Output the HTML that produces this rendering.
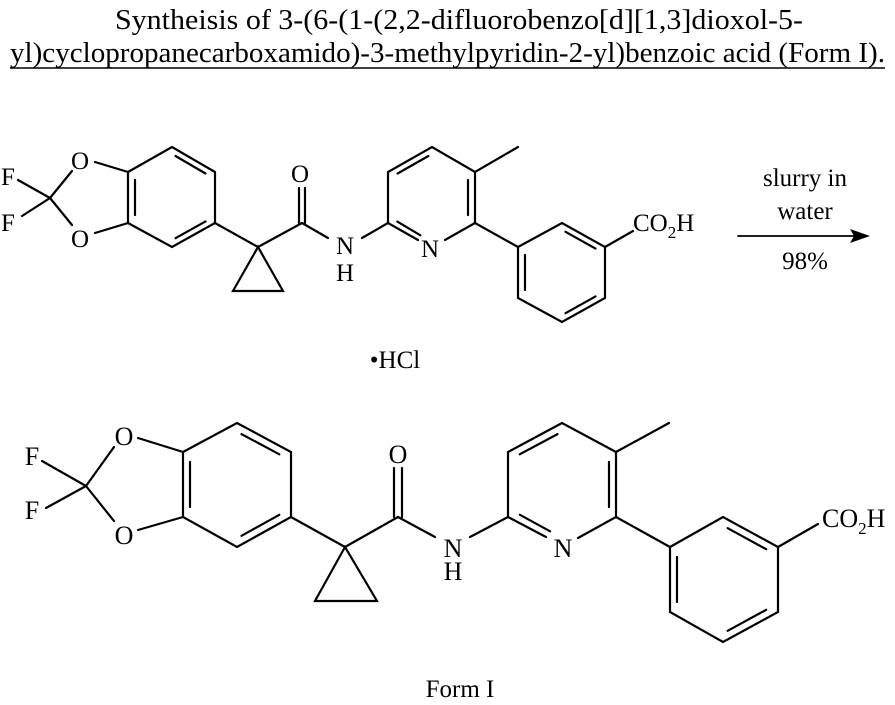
<!DOCTYPE html>
<html><head><meta charset="utf-8"><style>
html,body{margin:0;padding:0;background:#fff;width:895px;height:705px;overflow:hidden}
</style></head><body>
<svg width="895" height="705" viewBox="0 0 895 705" xmlns="http://www.w3.org/2000/svg" font-family="Liberation Serif, serif" fill="#000">
<text x="115" y="29" font-size="28" textLength="688" lengthAdjust="spacingAndGlyphs">Syntheisis of 3-(6-(1-(2,2-difluorobenzo[d][1,3]dioxol-5-</text>
<text x="10" y="62" font-size="28" textLength="875" lengthAdjust="spacingAndGlyphs">yl)cyclopropanecarboxamido)-3-methylpyridin-2-yl)benzoic acid (Form I).</text>
<line x1="10" y1="68" x2="885" y2="68" stroke="#000" stroke-width="1.5"/>

<g stroke="#000" stroke-width="2.2" fill="none" stroke-linecap="round">
<line x1="18" y1="180" x2="50" y2="198"/><line x1="22" y1="216" x2="50" y2="198"/>
<line x1="50" y1="198" x2="72" y2="171"/><line x1="50" y1="198" x2="72" y2="225"/>
<line x1="95" y1="162" x2="128" y2="172"/><line x1="95" y1="233" x2="128" y2="223"/>
<polyline points="128,172 172,147 215,172 215,223 172,247 128,223 128,172"/>
<line x1="135" y1="180" x2="135" y2="215"/>
<line x1="175.5" y1="156" x2="205.5" y2="173.5"/>
<line x1="205.5" y1="221.4" x2="175.5" y2="238.2"/>
<line x1="215" y1="223" x2="258" y2="247"/>
<polygon points="258,247 233,291 283,291"/>
<line x1="258" y1="247" x2="302" y2="223"/>
<line x1="299" y1="223" x2="299" y2="188"/><line x1="305" y1="223" x2="305" y2="188"/>
<line x1="302" y1="223" x2="328" y2="238"/>
<line x1="362" y1="238" x2="388" y2="223"/>
<polyline points="418,240 388,223 388,172 432,147 475,172 518,147"/>
<polyline points="475,172 475,223 445,240"/>
<line x1="397.6" y1="173.5" x2="428.4" y2="156"/>
<line x1="468" y1="180" x2="468" y2="215"/>
<line x1="397.3" y1="221.6" x2="420.4" y2="235.3"/>
<line x1="475" y1="223" x2="518" y2="247"/>
<polygon points="518,247 562,223 605,247 605,298 562,322 518,298"/>
<line x1="565.5" y1="231.8" x2="595.5" y2="248.6"/>
<line x1="525" y1="255" x2="525" y2="290"/>
<line x1="595.5" y1="296.4" x2="565.5" y2="313.2"/>
<line x1="605" y1="247" x2="633" y2="231"/>
<line x1="738" y1="236" x2="855" y2="236" stroke-width="1.8"/>

<line x1="42" y1="461" x2="86" y2="486"/><line x1="46" y1="508" x2="86" y2="486"/>
<line x1="86" y1="486" x2="114" y2="447"/><line x1="86" y1="486" x2="114" y2="521"/>
<line x1="138" y1="438" x2="183" y2="452"/><line x1="138" y1="530" x2="183" y2="517"/>
<polygon points="183,452 237,423 291,452 291,517 237,547 183,517"/>
<line x1="190" y1="462" x2="190" y2="507"/>
<line x1="241.5" y1="434.1" x2="279.3" y2="454.3"/>
<line x1="279.3" y1="514.8" x2="241.5" y2="535.8"/>
<line x1="291" y1="517" x2="345" y2="547"/>
<polygon points="345,547 315,601 377,601"/>
<line x1="345" y1="547" x2="398" y2="517"/>
<line x1="394" y1="517" x2="394" y2="468"/><line x1="402" y1="517" x2="402" y2="468"/>
<line x1="398" y1="517" x2="435" y2="537"/>
<line x1="470" y1="537" x2="508" y2="517"/>
<polyline points="546,537 508,517 508,452 562,423 616,452 669,423"/>
<polyline points="616,452 616,517 578,538"/>
<line x1="519.7" y1="454.3" x2="557.5" y2="434.1"/>
<line x1="609" y1="462" x2="609" y2="507"/>
<line x1="519.9" y1="514.8" x2="550.1" y2="531.3"/>
<line x1="616" y1="517" x2="670" y2="547"/>
<polygon points="670,547 723,517 778,547 778,612 723,642 670,612"/>
<line x1="727.7" y1="528.2" x2="766.2" y2="549.2"/>
<line x1="677" y1="557" x2="677" y2="602"/>
<line x1="766.2" y1="609.8" x2="727.7" y2="630.8"/>
<line x1="778" y1="547" x2="818" y2="524"/>
</g>
<polygon points="870,236 850,229 854,236 850,243" fill="#000"/>

<g font-size="25" text-anchor="middle">
<text x="8" y="185">F</text><text x="8" y="231">F</text>
<text x="80" y="169">O</text><text x="80" y="247">O</text>
<text x="300" y="182">O</text>
<text x="345" y="254">N</text><text x="345" y="281">H</text>
<text x="430" y="257">N</text>
<text x="633" y="231" text-anchor="start">CO<tspan font-size="17" dy="7">2</tspan><tspan dy="-7">H</tspan></text>
<text x="805" y="186">slurry in</text>
<text x="805" y="219">water</text>
<text x="805" y="269">98%</text>
<text x="395" y="368">•HCl</text>
<text x="460" y="697">Form I</text>
</g>
<g font-size="26" text-anchor="middle">
<text x="32" y="465">F</text><text x="32" y="519">F</text>
<text x="124" y="445">O</text><text x="124" y="544">O</text>
<text x="398" y="463">O</text>
<text x="453" y="557">N</text><text x="453" y="580">H</text>
<text x="563" y="557">N</text>
<text x="822" y="527" text-anchor="start">CO<tspan font-size="17" dy="7">2</tspan><tspan dy="-7">H</tspan></text>
</g>
</svg>
</body></html>
